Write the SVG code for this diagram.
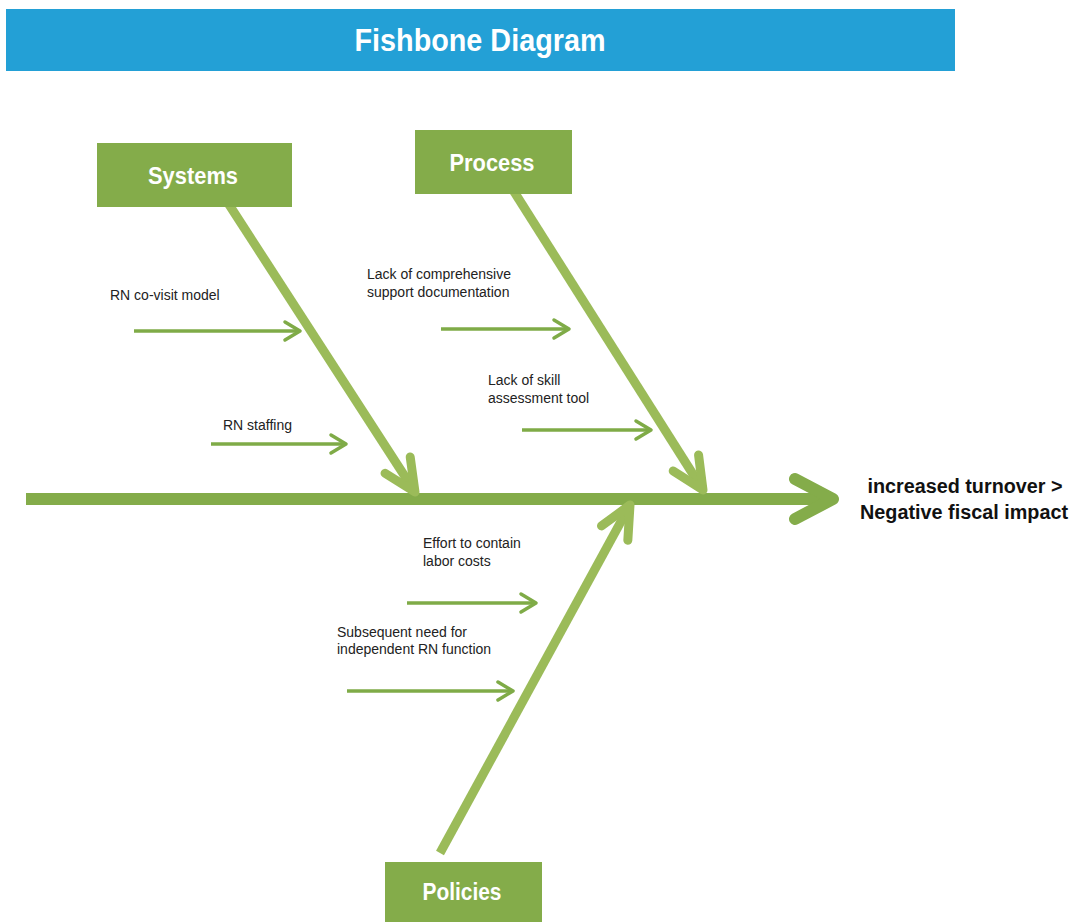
<svg xmlns="http://www.w3.org/2000/svg" width="1073" height="922" viewBox="0 0 1073 922">
<style>
.box{fill:#84ac4a}
.hdr{fill:#23a0d6}
.bt{font-family:"Liberation Sans",Arial,sans-serif;font-weight:bold;fill:#ffffff;text-anchor:middle}
.lbl{font-family:"Liberation Sans",Arial,sans-serif;font-size:14px;fill:#222222}
.eff{font-family:"Liberation Sans",Arial,sans-serif;font-weight:bold;font-size:20px;fill:#111111;text-anchor:middle}
.spine{stroke:#84ac4a;stroke-width:12;fill:none}
.bone{stroke:#9bbb59;stroke-width:9;fill:none}
.sub{stroke:#7fab47;stroke-width:3.5;fill:none}
</style>
<defs>
<marker id="mSpine" markerUnits="userSpaceOnUse" orient="auto" refX="0" refY="0" markerWidth="60" markerHeight="60" viewBox="-50 -30 60 60" overflow="visible">
<path d="M-38,-20 L0,0 L-38,20" fill="none" stroke="#84ac4a" stroke-width="12" stroke-linecap="round" stroke-linejoin="round"/>
</marker>
<marker id="mBone" markerUnits="userSpaceOnUse" orient="auto" refX="0" refY="0" markerWidth="50" markerHeight="50" viewBox="-40 -25 50 50" overflow="visible">
<path d="M-32,-15 L0,0 L-32,15" fill="none" stroke="#9bbb59" stroke-width="9" stroke-linecap="round" stroke-linejoin="round"/>
</marker>
<marker id="mSub" markerUnits="userSpaceOnUse" orient="auto" refX="0" refY="0" markerWidth="30" markerHeight="30" viewBox="-20 -15 30 30" overflow="visible">
<path d="M-15,-9 L0,0 L-15,9" fill="none" stroke="#7fab47" stroke-width="3.5" stroke-linecap="round" stroke-linejoin="round"/>
</marker>
</defs>

<g id="title">
<rect class="hdr" x="6" y="9" width="949" height="62"/>
<text class="bt" x="480" y="51" font-size="31" textLength="251" lengthAdjust="spacingAndGlyphs">Fishbone Diagram</text>
</g>

<g id="connectors">
<line class="spine" x1="26" y1="499" x2="833" y2="499" marker-end="url(#mSpine)"/>
<line class="bone" x1="228" y1="203" x2="415" y2="492" marker-end="url(#mBone)"/>
<line class="bone" x1="513" y1="190" x2="703" y2="490" marker-end="url(#mBone)"/>
<line class="bone" x1="440" y1="853" x2="630" y2="505" marker-end="url(#mBone)"/>
<line class="sub" x1="134" y1="331" x2="300" y2="331" marker-end="url(#mSub)"/>
<line class="sub" x1="211" y1="444" x2="346" y2="444" marker-end="url(#mSub)"/>
<line class="sub" x1="441" y1="329" x2="569" y2="329" marker-end="url(#mSub)"/>
<line class="sub" x1="522" y1="430" x2="651" y2="430" marker-end="url(#mSub)"/>
<line class="sub" x1="407" y1="603" x2="536" y2="603" marker-end="url(#mSub)"/>
<line class="sub" x1="347" y1="691" x2="513" y2="691" marker-end="url(#mSub)"/>
</g>

<g id="systems">
<rect class="box" x="97" y="143" width="195" height="64"/>
<text class="bt" x="193" y="184" font-size="24" textLength="90" lengthAdjust="spacingAndGlyphs">Systems</text>
</g>
<g id="process">
<rect class="box" x="415" y="130" width="157" height="64"/>
<text class="bt" x="492" y="171" font-size="24" textLength="85" lengthAdjust="spacingAndGlyphs">Process</text>
</g>
<g id="policies">
<rect class="box" x="385" y="862" width="157" height="60"/>
<text class="bt" x="462" y="900" font-size="23" textLength="79" lengthAdjust="spacingAndGlyphs">Policies</text>
</g>

<g id="effect">
<text class="eff" x="965" y="493" textLength="195" lengthAdjust="spacingAndGlyphs">increased turnover &gt;</text>
<text class="eff" x="964" y="519" textLength="208" lengthAdjust="spacingAndGlyphs">Negative fiscal impact</text>
</g>

<g id="cause-covisit"><text class="lbl" x="110" y="300">RN co-visit model</text></g>
<g id="cause-staffing"><text class="lbl" x="223" y="430">RN staffing</text></g>
<g id="cause-documentation"><text class="lbl" x="367" y="279">Lack of comprehensive</text><text class="lbl" x="367" y="297">support documentation</text></g>
<g id="cause-skill"><text class="lbl" x="488" y="385">Lack of skill</text><text class="lbl" x="488" y="403">assessment tool</text></g>
<g id="cause-labor"><text class="lbl" x="423" y="548">Effort to contain</text><text class="lbl" x="423" y="566">labor costs</text></g>
<g id="cause-independent"><text class="lbl" x="337" y="637">Subsequent need for</text><text class="lbl" x="337" y="654">independent RN function</text></g>
</svg>
